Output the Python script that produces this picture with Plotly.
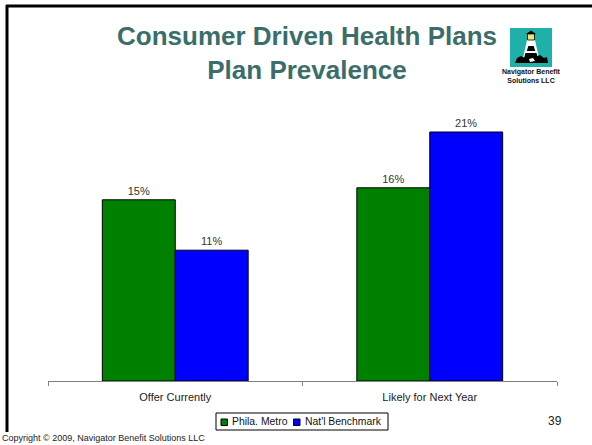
import plotly.graph_objects as go

categories = ["Offer Currently", "Likely for Next Year"]
phila_metro = [15.1, 16.1]
natl_benchmark = [10.9, 20.75]
series_names = ["Phila. Metro", "Nat'l Benchmark"]
series_colors = ["#008000", "#0000FF"]

W, H = 592, 445
ML, MR, MT, MB = 48, 35, 81, 64
PW, PH = W - ML - MR, H - MT - MB

def px(x):
    return (x - ML) / PW

def py(y):
    return (H - MB - y) / PH

fig = go.Figure()
for name, vals, col in [(series_names[0], phila_metro, series_colors[0]),
                        (series_names[1], natl_benchmark, series_colors[1])]:
    fig.add_trace(go.Bar(
        x=categories, y=vals, name=name,
        marker=dict(color=col, line=dict(color="#000000", width=1)),
        text=[f"{round(v)}%" for v in vals], textposition="outside",
        textfont=dict(family="Liberation Sans, Arial", size=11, color="#333333"),
        cliponaxis=False,
    ))

shapes = []
# slide border (top and left)
shapes.append(dict(type="line", xref="paper", yref="paper", x0=px(6), x1=px(600), y0=py(6), y1=py(6),
                   line=dict(color="#000000", width=3)))
shapes.append(dict(type="line", xref="paper", yref="paper", x0=px(7), x1=px(7), y0=py(5), y1=py(432),
                   line=dict(color="#000000", width=3)))

def rect(x0, y0, x1, y1, fill, lw=0, lc="#000"):
    return dict(type="rect", xref="paper", yref="paper", x0=px(x0), x1=px(x1), y0=py(y1), y1=py(y0),
                fillcolor=fill, line=dict(width=lw, color=lc))

def poly(pts, fill):
    d = "M " + " L ".join(f"{px(a):.5f},{py(b):.5f}" for a, b in pts) + " Z"
    return dict(type="path", xref="paper", yref="paper", path=d, fillcolor=fill, line=dict(width=0))

# logo
shapes.append(rect(510, 28, 552, 67, "#1FB0AA"))
shapes.append(poly([(527, 40), (535, 40), (539, 58), (523, 58)], "#FFFFFF"))
shapes.append(poly([(528.3, 46), (533.7, 46), (535.2, 51), (526.8, 51)], "#000000"))
shapes.append(poly([(525.5, 53), (536.5, 53), (538, 58), (524, 58)], "#000000"))
shapes.append(rect(527.5, 34, 534.5, 40, "#F2E27A", 0.8, "#000"))
shapes.append(poly([(526, 34), (531, 30.5), (536, 34)], "#000000"))
shapes.append(poly([(515, 63), (517, 58), (521, 56), (525, 58), (530, 56), (535, 57), (540, 55),
                    (544, 58), (547, 57), (548, 63)], "#000000"))
shapes.append(poly([(529, 59), (533, 58), (535, 61), (530, 62)], "#FFFFFF"))

# legend box (drawn manually to keep it compact)
shapes.append(rect(216, 413, 388, 430, "#FFFFFF", 1, "#000000"))
leg_sq = [221, 293.5]
leg_tx = [230, 303]
for sx, col in zip(leg_sq, series_colors):
    shapes.append(rect(sx, 419, sx + 6.5, 425.5, col, 1, "#000000"))

ann = []
for tx, name in zip(leg_tx, series_names):
    ann.append(dict(text=name, xref="paper", yref="paper", x=px(tx), y=py(421.8), xanchor="left",
                    yanchor="middle", showarrow=False,
                    font=dict(family="Liberation Sans, Arial", size=10.4, color="#111111")))
ann.append(dict(text="<b>Consumer Driven Health Plans<br>Plan Prevalence</b>", xref="paper", yref="paper",
                x=px(307), y=py(53), xanchor="center", yanchor="middle", showarrow=False,
                font=dict(family="Liberation Sans, Arial", size=26, color="#3B6E6B"), align="center"))
ann.append(dict(text="<b>Navigator Benefit<br>Solutions LLC</b>", xref="paper", yref="paper",
                x=px(531), y=py(76), xanchor="center", yanchor="middle", showarrow=False,
                font=dict(family="Liberation Sans, Arial", size=7, color="#111111"), align="center"))
ann.append(dict(text="39", xref="paper", yref="paper", x=px(555), y=py(421), xanchor="center",
                yanchor="middle", showarrow=False,
                font=dict(family="Liberation Sans, Arial", size=12, color="#222222")))
ann.append(dict(text="Copyright © 2009, Navigator Benefit Solutions LLC", xref="paper", yref="paper",
                x=px(0), y=py(438), xanchor="left", yanchor="middle", showarrow=False,
                font=dict(family="Liberation Sans, Arial", size=9, color="#222222")))

fig.update_layout(
    width=W, height=H, margin=dict(l=ML, r=MR, t=MT, b=MB, pad=0),
    paper_bgcolor="#FFFFFF", plot_bgcolor="#FFFFFF",
    barmode="group", bargap=0.427, bargroupgap=0,
    font=dict(family="Liberation Sans, Arial", size=11, color="#222222"),
    showlegend=False,
    xaxis=dict(showline=True, linecolor="#808080", linewidth=1, ticks="outside", tickson="boundaries",
               ticklen=4, tickcolor="#808080", showgrid=False, tickfont=dict(size=11, color="#222222"),
               ticklabelstandoff=6, fixedrange=True, automargin=False),
    yaxis=dict(range=[0, 25], showticklabels=False, showgrid=False, zeroline=False, showline=False,
               ticks="", fixedrange=True, automargin=False),
    shapes=shapes, annotations=ann,
)

fig.write_html("out.html")
